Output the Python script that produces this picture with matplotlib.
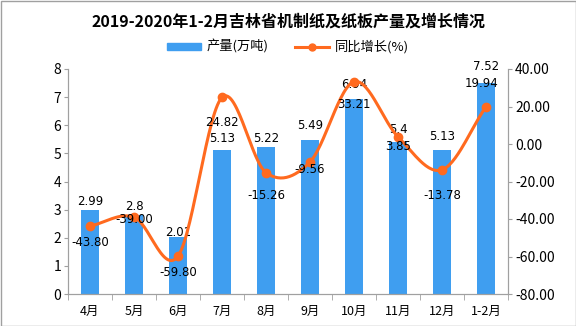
import numpy as np
import matplotlib
matplotlib.use("Agg")
import matplotlib.pyplot as plt
from matplotlib.patches import Rectangle

plt.rcParams['font.family'] = ['Noto Sans CJK SC', 'DejaVu Sans']

months = ['4月', '5月', '6月', '7月', '8月', '9月', '10月', '11月', '12月', '1-2月']
output = [2.99, 2.8, 2.01, 5.13, 5.22, 5.49, 6.94, 5.4, 5.13, 7.52]
growth = [-43.80, -39.00, -59.80, 24.82, -15.26, -9.56, 33.21, 3.85, -13.78, 19.94]

bar_color = '#3f9ef0'
line_color = '#ff6a1f'
axis_color = '#a0a0a0'

# label offsets in pixels (up is positive)
bar_label_dy = [8, 9, 5, 11, 9, 14, 14, 13, 13, 16]
line_label_dy = [-16, -2, -16, -25, -23, -8, -23, -10, -26, 23]
line_label_dx = [0, 0, 0, 0, 0, 0, 0, 0, 0, -4]


def smooth(x, y, n=30):
    # catmull-rom curve through the points, just for drawing the line
    x = np.asarray(x, float)
    y = np.asarray(y, float)
    k = len(y)
    m = np.zeros(k)
    m[1:-1] = (y[2:] - y[:-2]) / 2
    m[0] = y[1] - y[0]
    m[-1] = y[-1] - y[-2]
    xs, ys = [], []
    for i in range(k - 1):
        t = np.linspace(0, 1, n, endpoint=False)
        h00 = 2 * t ** 3 - 3 * t ** 2 + 1
        h10 = t ** 3 - 2 * t ** 2 + t
        h01 = -2 * t ** 3 + 3 * t ** 2
        h11 = t ** 3 - t ** 2
        xs.append(x[i] + t * (x[i + 1] - x[i]))
        ys.append(h00 * y[i] + h10 * m[i] + h01 * y[i + 1] + h11 * m[i + 1])
    xs.append([x[-1]])
    ys.append([y[-1]])
    return np.concatenate(xs), np.concatenate(ys)


fig = plt.figure(figsize=(5.76, 3.26), dpi=100)
ax = fig.add_axes([68 / 576, 1 - 294 / 326, 440 / 576, 225 / 326])
ax2 = ax.twinx()

x = np.arange(len(months))
ax.bar(x, output, width=0.4, color=bar_color, zorder=2)
ax.set_xlim(-0.5, len(months) - 0.5)
ax.set_ylim(0, 8)
ax.set_yticks(range(0, 9))
ax.set_xticks(x)
ax.set_xticklabels(months, fontsize=9)
ax.set_xticks(np.arange(-0.5, len(months), 1), minor=True)
ax.tick_params(axis='x', which='major', length=0, pad=8)
ax.tick_params(axis='x', which='minor', length=4, color=axis_color, direction='out')
ax.tick_params(axis='y', length=3, color=axis_color, labelsize=10, pad=2)

for i, v in enumerate(output):
    ax.annotate(f'{v:g}', (i, v), xytext=(0, bar_label_dy[i]), textcoords='offset pixels',
                ha='center', va='center', fontsize=8.5, family='DejaVu Sans', zorder=5)

sx, sy = smooth(x, growth)
ax2.plot(sx, sy, color=line_color, lw=2.2, zorder=3)
ax2.plot(x, growth, 'o', color=line_color, ms=6, zorder=4)
ax2.set_ylim(-80, 40)
ax2.set_yticks(range(-80, 41, 20))
ax2.set_yticklabels([f'{t:.2f}' for t in range(-80, 41, 20)])
ax2.tick_params(axis='y', length=3, color=axis_color, labelsize=10, pad=2)

for i, v in enumerate(growth):
    ax2.annotate(f'{v:.2f}', (i, v), xytext=(line_label_dx[i], line_label_dy[i]),
                 textcoords='offset pixels', ha='center', va='center',
                 fontsize=8.5, family='DejaVu Sans', zorder=5)

for a in (ax, ax2):
    a.spines['top'].set_visible(False)
    for s in ('left', 'right', 'bottom'):
        a.spines[s].set_color(axis_color)

ax.set_zorder(ax2.get_zorder() - 1)
ax.patch.set_visible(False)

fig.text(0.5, 1 - 22 / 326, '2019-2020年1-2月吉林省机制纸及纸板产量及增长情况',
         ha='center', va='center', fontsize=11.5, fontweight='bold')

line_handle = plt.Line2D([], [], color=line_color, lw=2.2, marker='o', ms=5)
fig.legend([Rectangle((0, 0), 1, 1, color=bar_color), line_handle],
           ['产量(万吨)', '同比增长(%)'], loc='center', ncol=2,
           bbox_to_anchor=(0.5, 1 - 47 / 326), frameon=False, fontsize=9.5,
           handlelength=2.6, handleheight=0.5, columnspacing=2.0, handletextpad=0.4)

fig.add_artist(Rectangle((0.5 / 576, 0.5 / 326), 575 / 576, 325 / 326, fill=False,
                         edgecolor='#a0a0a0', lw=1, transform=fig.transFigure))

fig.savefig('out.png', dpi=100)
